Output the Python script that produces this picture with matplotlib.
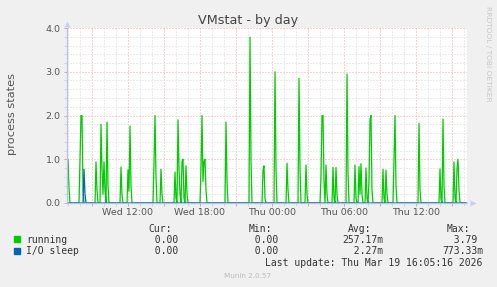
import numpy as np
import matplotlib
matplotlib.use('Agg')
import matplotlib.pyplot as plt
from matplotlib.patches import Rectangle

W, H = 497, 287

# 5 minute samples, one per pixel column, index 0 = Wed 06:55
n_samples = 400
start_hour = 6 + 55 / 60  # hours since Wed 00:00

# nonzero samples (sample index, value)
running_idx = [0, 1, 2, 13, 14, 15, 16, 29, 30, 34, 35, 36, 37, 38, 40, 41,
               54, 55, 61, 62, 63, 64, 87, 88, 89, 94, 95,
               108, 109, 111, 112, 113, 115, 116, 117, 119, 120,
               134, 135, 136, 137, 138, 139, 159, 160, 183, 184,
               196, 197, 198, 208, 209, 220, 221, 232, 233, 239, 240,
               254, 255, 256, 257, 259, 260, 266, 267, 269, 270,
               280, 281, 288, 289, 292, 293, 294, 295, 299, 300,
               302, 303, 304, 305, 316, 317, 319, 320, 327, 328, 329,
               352, 353, 373, 374, 376, 377, 387, 388, 390, 391, 392]
running_val = [0.5, 1.0, 0.35, 0.95, 2.0, 2.0, 0.3, 0.94, 0.3, 1.8, 0.8, 0.2, 0.94, 0.3, 1.85, 0.4,
               0.82, 0.2, 0.76, 0.27, 1.76, 0.4, 0.9, 2.0, 0.6, 0.77, 0.2,
               0.71, 0.1, 1.9, 0.8, 0.2, 0.95, 1.0, 0.1, 0.85, 0.2,
               0.8, 2.0, 0.49, 0.95, 1.0, 0.3, 1.85, 0.5, 3.79, 1.0,
               0.75, 0.85, 0.1, 3.0, 0.8, 0.91, 0.3, 2.85, 0.8, 0.87, 0.2,
               0.6, 2.0, 2.0, 0.5, 0.87, 0.2, 0.81, 0.1, 0.81, 0.2,
               2.95, 0.7, 0.87, 0.1, 0.83, 0.2, 0.9, 0.2, 0.8, 0.1,
               0.5, 1.9, 2.0, 0.3, 0.77, 0.1, 0.75, 0.2, 1.0, 2.0, 0.4,
               1.82, 0.3, 0.78, 0.1, 1.92, 0.4, 0.94, 0.1, 0.79, 1.0, 0.3]
iosleep_idx = [17, 18]
iosleep_val = [0.773, 0.2]

series_names = ['running', 'I/O sleep']
series_colors = ['#00CC00', '#0066B3']
stat_headers = ['Cur:', 'Min:', 'Avg:', 'Max:']
running_stats = ['  0.00 ', '  0.00 ', '257.17m', '  3.79 ']
iosleep_stats = ['  0.00 ', '  0.00 ', '  2.27m', '773.33m']

xtick_hours = [12, 18, 24, 30, 36]
xtick_labels = ['Wed 12:00', 'Wed 18:00', 'Thu 00:00', 'Thu 06:00', 'Thu 12:00']

running = np.zeros(n_samples)
running[running_idx] = running_val
iosleep = np.zeros(n_samples)
iosleep[iosleep_idx] = iosleep_val
t = start_hour + np.arange(n_samples) / 12.0


def fx(x):
    return x / W


def fy(y):
    return 1 - y / H


fig = plt.figure(figsize=(W / 100, H / 100), dpi=100, facecolor='#F0F0F0')
ax = fig.add_axes([fx(67), fy(203), 400 / W, 175 / H])
ax.set_facecolor('white')

ax.plot(t, running, color=series_colors[0], lw=0.9, zorder=3)
ax.plot(t, iosleep, color=series_colors[1], lw=0.9, zorder=4)

ax.set_xlim(start_hour, start_hour + n_samples / 12.0)
ax.set_ylim(0, 4)

# grid: minor every hour / 0.2, major every 3 hours / 1.0
ax.set_xticks(np.arange(9, 40, 3))
ax.set_xticklabels([xtick_labels[xtick_hours.index(h)] if h in xtick_hours else ''
                    for h in range(9, 40, 3)])
ax.set_xticks(np.arange(7, 41, 1), minor=True)
ax.set_yticks([0, 1, 2, 3, 4])
ax.set_yticklabels(['0.0', '1.0', '2.0', '3.0', '4.0'])
ax.set_yticks(np.arange(0, 4.01, 0.2), minor=True)

ax.grid(which='minor', color='#D8D8D8', lw=0.72, linestyle=(0, (1, 2)))
ax.grid(which='major', color='#EBA8A8', lw=0.72, linestyle=(0, (1, 2)))
ax.set_axisbelow(True)

ax.tick_params(which='major', length=2, width=0.72, color='#E8A0A0',
               labelsize=6.8, labelcolor='#555555', pad=2.5)
ax.tick_params(which='minor', length=2, width=0.72, color='#D4D4D4')
ax.tick_params(axis='x', which='major', pad=1.5)

for s in ['top', 'right']:
    ax.spines[s].set_visible(False)
for s in ['left', 'bottom']:
    ax.spines[s].set_color('#B8C0EC')
    ax.spines[s].set_linewidth(0.9)
    ax.spines[s].set_zorder(5)

# axis arrows
ax.plot([1.014], [0], marker='>', ms=5, color='#C8D0F4', mec='none',
        transform=ax.transAxes, clip_on=False)
ax.plot([0], [1.025], marker='^', ms=5, color='#C8D0F4', mec='none',
        transform=ax.transAxes, clip_on=False)

fig.text(fx(248), fy(24), 'VMstat - by day', ha='center', va='baseline',
         fontsize=9.2, color='#444444')
fig.text(fx(11.7), fy(114), 'process states', ha='center', va='center',
         rotation=90, fontsize=8.2, color='#555555')
fig.text(fx(488), fy(53.5), 'RRDTOOL / TOBI OETIKER', ha='center', va='center',
         rotation=270, fontsize=5.4, color='#C8C8C8')

# legend block
mono = dict(family='DejaVu Sans Mono', fontsize=7.0, color='#333333')
col_right = [184, 284, 383, 483]
for x, h in zip([172, 272, 371, 470], stat_headers):
    fig.text(fx(x), fy(232), h, ha='right', va='baseline', **mono)

rows = [(243, running_stats), (254.5, iosleep_stats)]
for (y, stats), name, col in zip(rows, series_names, series_colors):
    fig.patches.append(Rectangle((fx(14), fy(y - 1)), 6 / W, 6 / H,
                                 transform=fig.transFigure, color=col))
    fig.text(fx(26.5), fy(y), name, ha='left', va='baseline', **mono)
    for x, v in zip(col_right, stats):
        fig.text(fx(x), fy(y), v, ha='right', va='baseline', **mono)

fig.text(fx(482), fy(266.5), 'Last update: Thu Mar 19 16:05:16 2026',
         ha='right', va='baseline', **mono)
fig.text(fx(248), fy(278.5), 'Munin 2.0.57', ha='center', va='baseline',
         fontsize=5.2, color='#BBBBBB')

fig.savefig('out.png', dpi=100, facecolor=fig.get_facecolor())
